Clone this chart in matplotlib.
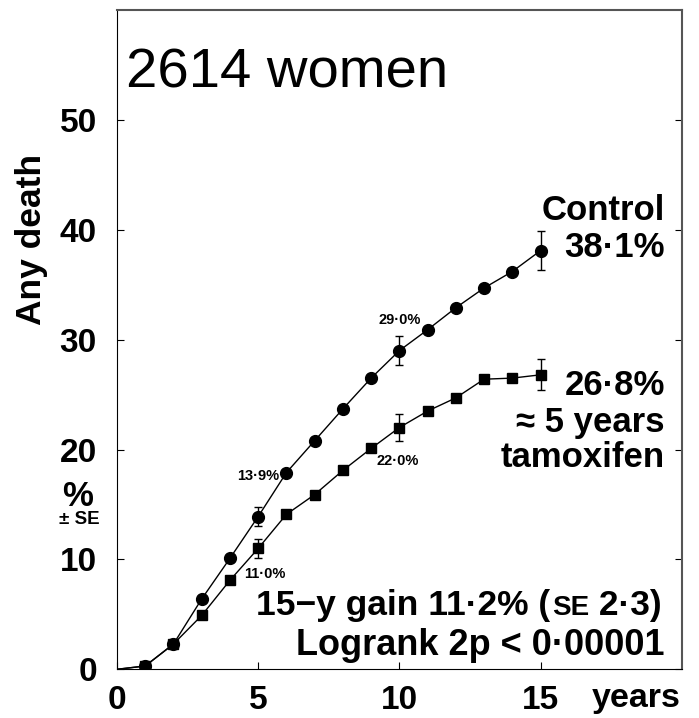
#!/usr/bin/env python3

import matplotlib
matplotlib.use('Agg')
import matplotlib.pyplot as plt

plt.rcParams['font.family'] = ['Liberation Sans', 'DejaVu Sans']

years = [0, 1, 2, 3, 4, 5, 6, 7, 8, 9, 10, 11, 12, 13, 14, 15]
control = [0, 0.3, 2.3, 6.4, 10.1, 13.9, 17.9, 20.8, 23.7, 26.5, 29.0, 30.9, 32.9, 34.7, 36.2, 38.1]
tamoxifen = [0, 0.3, 2.3, 4.9, 8.1, 11.0, 14.1, 15.9, 18.1, 20.1, 22.0, 23.5, 24.7, 26.4, 26.5, 26.8]

se_years = [5, 10, 15]
control_se = [0.9, 1.35, 1.75]
tamoxifen_se = [0.87, 1.23, 1.4]

yticks = [0, 10, 20, 30, 40, 50]
xticks = [0, 5, 10, 15]

W, H = 699, 718
fig = plt.figure(figsize=(W / 100, H / 100), dpi=100)
ax = fig.add_axes([117 / W, 1 - 669.3 / H, (681.7 - 117) / W, (669.3 - 10) / H])


def px(x, y):
    # figure pixel position (from top-left) -> figure fraction
    return x / W, 1 - y / H


# curves (the point at year 0 has no marker)
ax.plot(years, control, color='black', lw=1)
ax.plot(years[1:], control[1:], 'o', color='black', ms=8.5)
ax.plot(years, tamoxifen, color='black', lw=1)
ax.plot(years[1:], tamoxifen[1:], 's', color='black', ms=7.5)

ctl_at = [control[years.index(y)] for y in se_years]
tam_at = [tamoxifen[years.index(y)] for y in se_years]
ax.errorbar(se_years, ctl_at, yerr=control_se, fmt='none', ecolor='black', elinewidth=1, capsize=2.8)
ax.errorbar(se_years, tam_at, yerr=tamoxifen_se, fmt='none', ecolor='black', elinewidth=1, capsize=2.8)

ax.set_xlim(0, 20)
ax.set_ylim(0, 60)
ax.set_xticks(xticks)
ax.set_yticks(yticks)
ax.set_xticklabels([str(t) for t in xticks], fontsize=24, fontweight='bold')
ax.set_yticklabels([str(t) for t in yticks], fontsize=24, fontweight='bold')
ax.tick_params(axis='y', direction='in', length=5, right=True, pad=14.5)
ax.tick_params(axis='x', direction='in', length=5, pad=11)
for s in ['top', 'right']:
    ax.spines[s].set_color('#555555')
    ax.spines[s].set_linewidth(1.5)

fig.text(*px(636, 707), 'years', fontsize=24.5, fontweight='bold', ha='center', va='baseline')

fig.text(*px(31, 239), 'Any death', rotation=90, fontsize=25.5, fontweight='bold',
         ha='center', va='center')
fig.text(*px(78, 496), '%', fontsize=25, fontweight='bold', ha='center', va='center')
fig.text(*px(79, 520), '± SE', fontsize=13.5, fontweight='bold', ha='center', va='center')

fig.text(*px(126, 88), '2614 women', fontsize=40.5, ha='left', va='baseline')

for y, s in [(220, 'Control'), (256.7, '38·1%'), (395, '26·8%'),
             (431.7, '≈ 5 years'), (466.7, 'tamoxifen')]:
    fig.text(*px(665, y), s, fontsize=25, fontweight='bold', ha='right', va='baseline')

# gain line with small-caps SE
t1 = fig.text(*px(256, 615), '15−y gain 11·2% (', fontsize=25.5, fontweight='bold', va='baseline')
t2 = fig.text(0, 0, 'SE', fontsize=20, fontweight='bold', va='baseline')
t3 = fig.text(0, 0, ' 2·3)', fontsize=25.5, fontweight='bold', va='baseline')
r = fig.canvas.get_renderer()
x0 = t1.get_window_extent(r).x1 / W
t2.set_position((x0 + 2 / W, 1 - 615 / H))
x1 = t2.get_window_extent(r).x1 / W
t3.set_position((x1, 1 - 615 / H))

fig.text(*px(665, 655), 'Logrank 2p < 0·00001', fontsize=26, fontweight='bold', ha='right', va='baseline')

ax.text(5.75, 17.9 - 0.35, '13·9%', fontsize=10.5, fontweight='bold', ha='right', va='center')
ax.text(4.5, 8.7, '11·0%', fontsize=10.5, fontweight='bold', ha='left', va='center')
ax.text(10.0, 31.8, '29·0%', fontsize=10.5, fontweight='bold', ha='center', va='center')
ax.text(9.2, 18.95, '22·0%', fontsize=10.5, fontweight='bold', ha='left', va='center')

plt.savefig('out.png', dpi=100)
plt.close()
